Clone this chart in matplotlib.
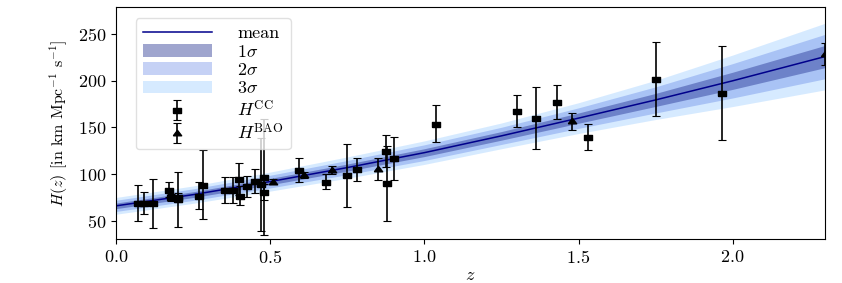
import matplotlib
matplotlib.use("Agg")
import matplotlib.pyplot as plt
import numpy as np
from matplotlib.legend_handler import HandlerErrorbar

# --- data ---
# cosmic chronometers
z_cc = [0.07, 0.09, 0.12, 0.17, 0.179, 0.199, 0.2, 0.27, 0.28, 0.352, 0.38, 0.4,
        0.4004, 0.4247, 0.4497, 0.47, 0.4783, 0.48, 0.593, 0.68, 0.75, 0.781,
        0.875, 0.88, 0.9, 1.037, 1.3, 1.363, 1.43, 1.53, 1.75, 1.965]
H_cc = [69, 69, 68.6, 83, 75, 75, 72.9, 77, 88.8, 83, 83, 95,
        77, 87.1, 92.8, 89, 80.9, 97, 104, 92, 98.8, 105,
        125, 90, 117, 154, 168, 160, 177, 140, 202, 186.5]
err_cc = [19.6, 12, 26.2, 8, 4, 5, 29.6, 14, 36.6, 14, 13.5, 17,
          10.2, 11.2, 12.9, 49.6, 9, 62, 13, 8, 33.6, 12,
          17, 40, 23, 20, 17, 33.6, 18, 14, 40, 50.4]

# BAO
z_bao = [0.51, 0.61, 0.70, 0.85, 1.48, 2.30]
H_bao = [92.0, 99.0, 104.6, 105.5, 156.5, 229.0]
err_bao = [2.5, 3.5, 4.5, 12.0, 9.0, 12.0]

# reconstructed mean and 1-sigma width
z_rec = [0.0, 0.25, 0.5, 0.75, 1.0, 1.25, 1.5, 1.75, 2.0, 2.3]
H_mean = [66.0, 78.0, 92.0, 107.0, 123.0, 141.0, 160.0, 179.5, 200.0, 226.0]
H_sig = [3.0, 3.1, 3.4, 3.8, 4.2, 4.6, 5.5, 7.0, 9.2, 11.9]

# --- style ---
plt.rcParams['font.family'] = 'serif'
plt.rcParams['font.serif'] = ['cmr10']
plt.rcParams['mathtext.fontset'] = 'cm'
plt.rcParams['axes.formatter.use_mathtext'] = True
plt.rcParams['font.size'] = 13

fig = plt.figure(figsize=(8.42, 2.83), dpi=100)
ax = fig.add_axes([0.138, 0.154, 0.842, 0.821])

z = np.array(z_rec)
m = np.array(H_mean)
s = np.array(H_sig)

ax.fill_between(z, m - 3 * s, m + 3 * s, color='dodgerblue', alpha=0.18, lw=0, label=r'$3\sigma$')
ax.fill_between(z, m - 2 * s, m + 2 * s, color='royalblue', alpha=0.3, lw=0, label=r'$2\sigma$')
ax.fill_between(z, m - s, m + s, color='#1c2a8c', alpha=0.42, lw=0, label=r'$1\sigma$')
ax.plot(z, m, color='darkblue', lw=1.1, label='mean')

# markers are a bit wider than tall in the reference
rect = [(-1, -0.6), (1, -0.6), (1, 0.6), (-1, 0.6), (-1, -0.6)]
tri = [(-1, -0.55), (1, -0.55), (0, 0.75), (-1, -0.55)]

eb_kw = dict(ls='none', color='black', ecolor='black', elinewidth=1.2, capsize=3, capthick=0.8)
cc = ax.errorbar(z_cc, H_cc, yerr=err_cc, marker=rect, ms=6, **eb_kw)
bao = ax.errorbar(z_bao, H_bao, yerr=err_bao, marker=tri, ms=6, **eb_kw)

handles, labels = ax.get_legend_handles_labels()
order = ['mean', r'$1\sigma$', r'$2\sigma$', r'$3\sigma$']
hs = [handles[labels.index(o)] for o in order] + [cc, bao]
ls = order + [r'$H^{\rm CC}$', r'$H^{\rm BAO}$']
ax.legend(hs, ls, loc='upper left', bbox_to_anchor=(0.015, 0.99), handlelength=3.8,
          handletextpad=1.4, labelspacing=0.13, borderpad=0.4, fontsize=13,
          framealpha=0.8, edgecolor='0.85',
          handler_map={type(cc): HandlerErrorbar(yerr_size=0.55)})

ax.set_xlim(0, 2.3)
ax.set_ylim(30, 279)
ax.set_xticks([0.0, 0.5, 1.0, 1.5, 2.0])
ax.set_yticks([50, 100, 150, 200, 250])
ax.set_xlabel(r'$z$', labelpad=1)
ax.set_ylabel(r'$H(z)$ [in km Mpc$^{-1}$ s$^{-1}$]', fontsize=11.5, labelpad=6)

fig.savefig('out.png', dpi=100)
